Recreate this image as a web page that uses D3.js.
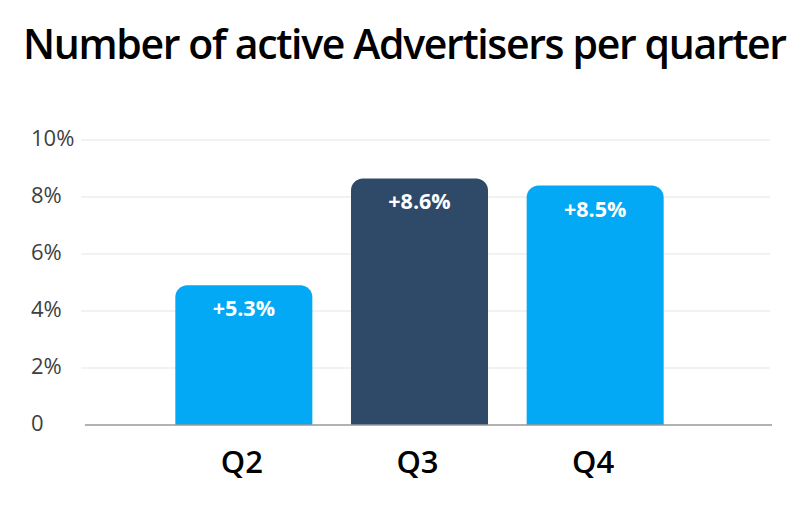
<!DOCTYPE html>
<html>
<head>
<meta charset="utf-8">
<script src="https://cdn.jsdelivr.net/npm/d3@7"></script>
<style>
  html, body { margin: 0; padding: 0; background: #fff; }
  svg { display: block; font-family: "Open Sans", sans-serif; }
</style>
</head>
<body>
<svg id="chart" width="809" height="516"></svg>
<script>
const categories = ["Q2", "Q3", "Q4"];
const values = [4.9, 8.65, 8.4];
const valueLabels = ["+5.3%", "+8.6%", "+8.5%"];
const barColors = ["#03A9F4", "#2E4A68", "#03A9F4"];
const yTicks = [0, 2, 4, 6, 8, 10];
const yTickLabels = ["0", "2%", "4%", "6%", "8%", "10%"];
const titleText = "Number of active Advertisers per quarter";

const svg = d3.select("#chart");

const y = d3.scaleLinear().domain([0, 10]).range([425, 140]);
const x = d3.scaleBand().domain(categories).range([156, 683])
  .paddingInner(0.22).paddingOuter(0.11);

// title
const title = svg.append("text")
  .attr("x", 23).attr("y", 59)
  .attr("font-size", 41).attr("font-weight", 600)
  .attr("fill", "#000")
  .text(titleText);
const tl = title.node().getComputedTextLength();
const nChars = titleText.length;
const ls = (764 - tl) / (nChars - 1);
title.attr("letter-spacing", ls.toFixed(2));

// gridlines
svg.append("g").selectAll("line").data(yTicks.filter(d => d > 0)).join("line")
  .attr("x1", 81).attr("x2", 770)
  .attr("y1", d => y(d)).attr("y2", d => y(d))
  .attr("stroke", "#e6e6e6").attr("stroke-width", 1.2);

// y tick labels
svg.append("g").selectAll("text").data(yTicks).join("text")
  .attr("x", 31).attr("y", d => y(d) + 6)
  .attr("font-size", 22).attr("fill", "#3f3f3f")
  .text((d, i) => yTickLabels[i]);

// bars with rounded top corners
const r = 12;
function barPath(x0, w, yTop, yBase) {
  const p = d3.path();
  p.moveTo(x0, yBase);
  p.lineTo(x0, yTop + r);
  p.arcTo(x0, yTop, x0 + r, yTop, r);
  p.lineTo(x0 + w - r, yTop);
  p.arcTo(x0 + w, yTop, x0 + w, yTop + r, r);
  p.lineTo(x0 + w, yBase);
  p.closePath();
  return p.toString();
}
svg.append("g").selectAll("path").data(categories).join("path")
  .attr("d", (c, i) => barPath(x(c), x.bandwidth(), y(values[i]), y(0)))
  .attr("fill", (c, i) => barColors[i]);

// value labels
svg.append("g").selectAll("text").data(categories).join("text")
  .attr("x", c => x(c) + x.bandwidth() / 2)
  .attr("y", (c, i) => y(values[i]) + 31)
  .attr("text-anchor", "middle")
  .attr("font-size", 21.5).attr("font-weight", 700)
  .attr("fill", "#fff")
  .text((c, i) => valueLabels[i]);

// baseline
svg.append("line")
  .attr("x1", 85).attr("x2", 772)
  .attr("y1", y(0)).attr("y2", y(0))
  .attr("stroke", "#999").attr("stroke-width", 1.5);

// x labels
svg.append("g").selectAll("text").data(categories).join("text")
  .attr("x", c => x(c) + x.bandwidth() / 2 - 2)
  .attr("y", 473)
  .attr("text-anchor", "middle")
  .attr("font-size", 31).attr("font-weight", 600)
  .attr("fill", "#000")
  .text(c => c);
</script>
</body>
</html>
